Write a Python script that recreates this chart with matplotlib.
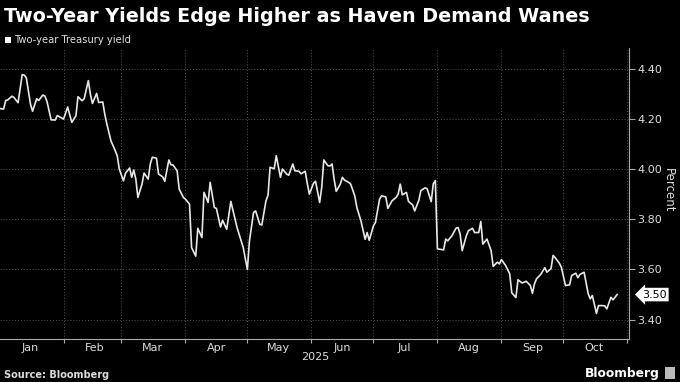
import matplotlib
matplotlib.use("Agg")
import matplotlib.pyplot as plt
import matplotlib.dates as mdates
import matplotlib.transforms as mtransforms
from matplotlib.ticker import NullFormatter, FixedLocator
from matplotlib.patches import Rectangle
import pandas as pd

# ---------------- data ----------------
start_date = "2025-01-01"
day_offsets = [
    0, 2, 3, 4, 6, 7, 9, 11, 12, 13, 15, 16, 18, 19, 21, 22, 23, 25, 27, 28,
    30, 31, 33, 34, 35, 37, 38, 40, 41, 43, 44, 45, 47, 48, 50, 51, 52,
    54, 55, 56, 57, 58, 60, 61, 63, 64, 65, 66, 67, 69, 70, 72, 73, 74, 76, 77,
    79, 80, 82, 83, 84, 86, 87, 89, 90, 92, 93, 95, 96, 98, 99, 101, 102,
    104, 105, 107, 108, 110, 112, 115, 118, 120, 121, 123, 124, 126, 127, 129,
    130, 131, 133, 134, 136, 137, 139, 140, 142, 143, 145, 146, 148, 149, 150, 152,
    153, 155, 156, 157, 159, 160, 161, 162, 163, 165, 166, 167, 169, 170, 172,
    173, 175, 177, 178, 179, 181, 182, 184, 185, 187, 188, 190, 192, 193, 194,
    195, 197, 198, 200, 201, 203,
    204, 206, 207, 209, 210, 211, 212, 215, 216, 217, 219, 221, 222, 223, 224,
    226, 227, 229, 230, 232, 233, 234, 236, 238, 239, 241, 242, 243, 245, 247,
    248, 250, 251, 253,
    255, 257, 258, 259, 260, 262, 264, 265, 267, 268, 269, 271, 272, 274, 276,
    277, 279, 280, 281, 283, 285, 286, 287, 289, 290, 292, 293, 294, 296, 297, 299,
]
yields = [
    4.241, 4.239, 4.273, 4.275, 4.29, 4.285, 4.264, 4.376, 4.374, 4.363, 4.259,
    4.23, 4.28, 4.273, 4.295, 4.29, 4.269, 4.196, 4.195, 4.213, 4.204, 4.199,
    4.247, 4.217, 4.186, 4.212, 4.288, 4.272, 4.28, 4.352, 4.298, 4.261, 4.301,
    4.265, 4.267, 4.217, 4.178,
    4.111, 4.093, 4.073, 4.053, 4.00, 3.953, 3.983, 4.004, 3.967, 3.996, 3.96,
    3.887, 3.94, 3.984, 3.96, 4.02, 4.047, 4.043, 3.98, 3.969, 3.951, 4.036,
    4.017, 4.016, 3.993, 3.92, 3.887, 3.88, 3.86, 3.687, 3.653, 3.764, 3.727,
    3.907, 3.867, 3.947,
    3.847, 3.843, 3.769, 3.796, 3.76, 3.871, 3.767, 3.687, 3.60, 3.713, 3.827,
    3.833, 3.78, 3.777, 3.873, 3.896, 4.007, 4.001, 4.053, 3.967, 4.00, 3.98,
    3.975, 4.02, 3.993, 3.991, 3.981, 3.991, 3.943, 3.90, 3.943,
    3.951, 3.867, 3.927, 4.036, 4.013, 4.012, 4.02, 3.96, 3.911, 3.94, 3.967,
    3.956, 3.947, 3.94, 3.893, 3.847, 3.793, 3.72, 3.747, 3.716, 3.773, 3.787,
    3.88, 3.893, 3.889, 3.843, 3.873, 3.887, 3.90, 3.94, 3.897, 3.907, 3.871,
    3.857, 3.833, 3.875,
    3.914, 3.925, 3.922, 3.87, 3.941, 3.954, 3.682, 3.678, 3.721, 3.714, 3.734,
    3.764, 3.767, 3.741, 3.675, 3.734, 3.754, 3.764, 3.747, 3.747, 3.791, 3.701,
    3.721, 3.675, 3.612, 3.629, 3.622, 3.639, 3.616, 3.583, 3.507, 3.488, 3.559,
    3.546,
    3.553, 3.536, 3.505, 3.543, 3.563, 3.58, 3.607, 3.589, 3.603, 3.656, 3.647,
    3.625, 3.609, 3.536, 3.539, 3.576, 3.585, 3.567, 3.58, 3.589, 3.503, 3.483,
    3.496, 3.425, 3.456, 3.456, 3.455, 3.443, 3.489, 3.479, 3.50,
]
y_ticks = [3.40, 3.60, 3.80, 4.00, 4.20, 4.40]
title = "Two-Year Yields Edge Higher as Haven Demand Wanes"
series_name = "Two-year Treasury yield"
year_label = "2025"

dates = pd.Timestamp(start_date) + pd.to_timedelta(day_offsets, unit="D")

# ---------------- figure ----------------
W, H = 680, 382
fig = plt.figure(figsize=(W / 100, H / 100), dpi=100, facecolor="black")
ax = fig.add_axes([0.0, 1 - 339 / H, 629 / W, (339 - 48) / H])
ax.set_facecolor("black")

ax.plot(dates, yields, color="#e8e8e8", lw=1.2, solid_joinstyle="round")

ax.set_ylim(3.323, 4.482)
ax.set_xlim(pd.Timestamp("2025-01-01 06:00"), pd.Timestamp("2025-11-01 18:00"))

# y axis on right
ax.yaxis.tick_right()
ax.yaxis.set_major_locator(FixedLocator(y_ticks))
ax.set_yticklabels([f"{v:.2f}" for v in y_ticks])
ax.tick_params(axis="y", which="major", length=4, width=0.8, color="#aaaaaa",
               labelcolor="#dddddd", labelsize=8, pad=2)

# x axis: ticks at month starts, labels mid-month
ax.xaxis.set_major_locator(mdates.MonthLocator())
ax.xaxis.set_major_formatter(NullFormatter())
ax.xaxis.set_minor_locator(mdates.MonthLocator(bymonthday=16))
ax.xaxis.set_minor_formatter(mdates.DateFormatter("%b"))
ax.tick_params(axis="x", which="major", length=3, width=0.8, color="#aaaaaa")
ax.tick_params(axis="x", which="minor", length=0, labelsize=8,
               labelcolor="#dddddd", pad=3)

ax.grid(True, which="major", color="#555555", linestyle=(0, (1, 2)), lw=0.7)

for s in ["left", "top"]:
    ax.spines[s].set_visible(False)
for s in ["bottom", "right"]:
    ax.spines[s].set_color("#aaaaaa")
    ax.spines[s].set_linewidth(0.8)

# last value label
trans = mtransforms.blended_transform_factory(ax.transAxes, ax.transData)
ax.text(1.021, yields[-1], f"{yields[-1]:.2f}", transform=trans, ha="left",
        va="center", fontsize=8, color="black", clip_on=False,
        bbox=dict(boxstyle="larrow,pad=0.16", fc="white", ec="none"))

# texts
fig.text(4 / W, 1 - 17 / H, title, fontsize=13.8, fontweight="bold",
         color="white", ha="left", va="center")
fig.patches.append(Rectangle((5 / W, 1 - 43 / H), 6 / W, 6 / H,
                             transform=fig.transFigure, fc="white", ec="none"))
fig.text(14 / W, 1 - 40 / H, series_name, fontsize=7.2, color="#dddddd",
         ha="left", va="center")
fig.text(668 / W, 1 - 190 / H, "Percent", rotation=270, fontsize=8.5,
         color="#dddddd", ha="center", va="center")
fig.text(315 / W, 1 - 357 / H, year_label, fontsize=8, color="#dddddd",
         ha="center", va="center")
fig.text(4 / W, 1 - 375 / H, "Source: Bloomberg", fontsize=7,
         fontweight="bold", color="#dddddd", ha="left", va="center")
fig.text(660 / W, 1 - 373 / H, "Bloomberg", fontsize=8.8, fontweight="bold",
         color="white", ha="right", va="center")
fig.patches.append(Rectangle((665 / W, 1 - 379 / H), 10 / W, 12 / H,
                             transform=fig.transFigure, fc="#bbbbbb", ec="none"))

fig.savefig("out.png", dpi=100, facecolor="black")
